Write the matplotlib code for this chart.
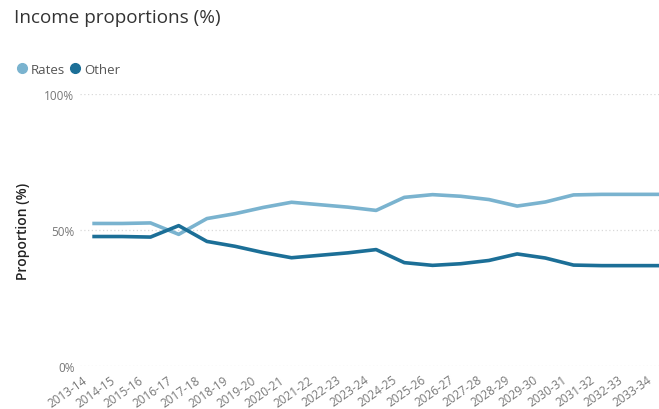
import matplotlib
matplotlib.use("Agg")
import matplotlib.pyplot as plt
import matplotlib.transforms as mtransforms
from matplotlib.ticker import FuncFormatter

plt.rcParams['font.family'] = ['Open Sans', 'DejaVu Sans']

# financial years on the x axis
years = ["2013-14", "2014-15", "2015-16", "2016-17", "2017-18", "2018-19",
         "2019-20", "2020-21", "2021-22", "2022-23", "2023-24", "2024-25",
         "2025-26", "2026-27", "2027-28", "2028-29", "2029-30", "2030-31",
         "2031-32", "2032-33", "2033-34"]

# share of income
rates = [52.4, 52.4, 52.6, 48.4, 54.2, 56.0, 58.3, 60.2, 59.3, 58.4, 57.2,
         62.0, 63.0, 62.4, 61.2, 58.8, 60.3, 62.9, 63.1, 63.1, 63.1]
other = [47.6, 47.6, 47.4, 51.6, 45.8, 44.0, 41.7, 39.8, 40.7, 41.6, 42.8,
         38.0, 37.0, 37.6, 38.8, 41.2, 39.7, 37.1, 36.9, 36.9, 36.9]

series_names = ["Rates", "Other"]
colours = ["#7ab3cf", "#1c6f97"]

fig = plt.figure(figsize=(6.59, 4.10), dpi=100)
ax = fig.add_axes([80 / 659, 43 / 410, 579 / 659, 272 / 410])

x = list(range(len(years)))
for vals, name, col in zip([rates, other], series_names, colours):
    ax.plot(x, vals, color=col, lw=2.6, solid_joinstyle='round', label=name)

ax.set_xlim(-0.5, len(years) - 1 + 0.03)
ax.set_ylim(0, 100)
ax.set_yticks([0, 50, 100])
ax.yaxis.set_major_formatter(FuncFormatter(lambda v, p: f"{v:.0f}%"))
ax.grid(axis='y', color='#d9d9d9', linestyle=(0, (1, 2)), lw=0.9)
ax.set_axisbelow(True)
for s in ax.spines.values():
    s.set_visible(False)
ax.tick_params(axis='both', length=0, colors='#777777', labelsize=8.5)
ax.tick_params(axis='y', pad=4)

ax.set_xticks(x)
ax.set_xticklabels(years, rotation=35, ha='right', rotation_mode='anchor')
shift = mtransforms.ScaledTranslation(-12 / 100, -2 / 100, fig.dpi_scale_trans)
for lab in ax.get_xticklabels():
    lab.set_transform(lab.get_transform() + shift)

ax.set_ylabel("Proportion (%)", fontsize=10, color='#222222', labelpad=10,
              fontweight='semibold')

fig.text(14 / 659, 1 - 18 / 410, "Income proportions (%)", fontsize=13.6,
         color='#333333', va='center', ha='left')

leg = fig.legend(handles=ax.get_lines(), labels=series_names, loc='center left',
                 bbox_to_anchor=(6 / 659, 1 - 70 / 410), ncol=2, frameon=False,
                 fontsize=9.5, handlelength=0.6, handletextpad=0.35,
                 columnspacing=0.5, labelcolor='#555555')
for h, col in zip(leg.legend_handles, colours):
    h.set_linestyle('none')
    h.set_marker('o')
    h.set_markersize(7)
    h.set_markerfacecolor(col)
    h.set_markeredgecolor(col)

fig.savefig("out.png", dpi=100)
